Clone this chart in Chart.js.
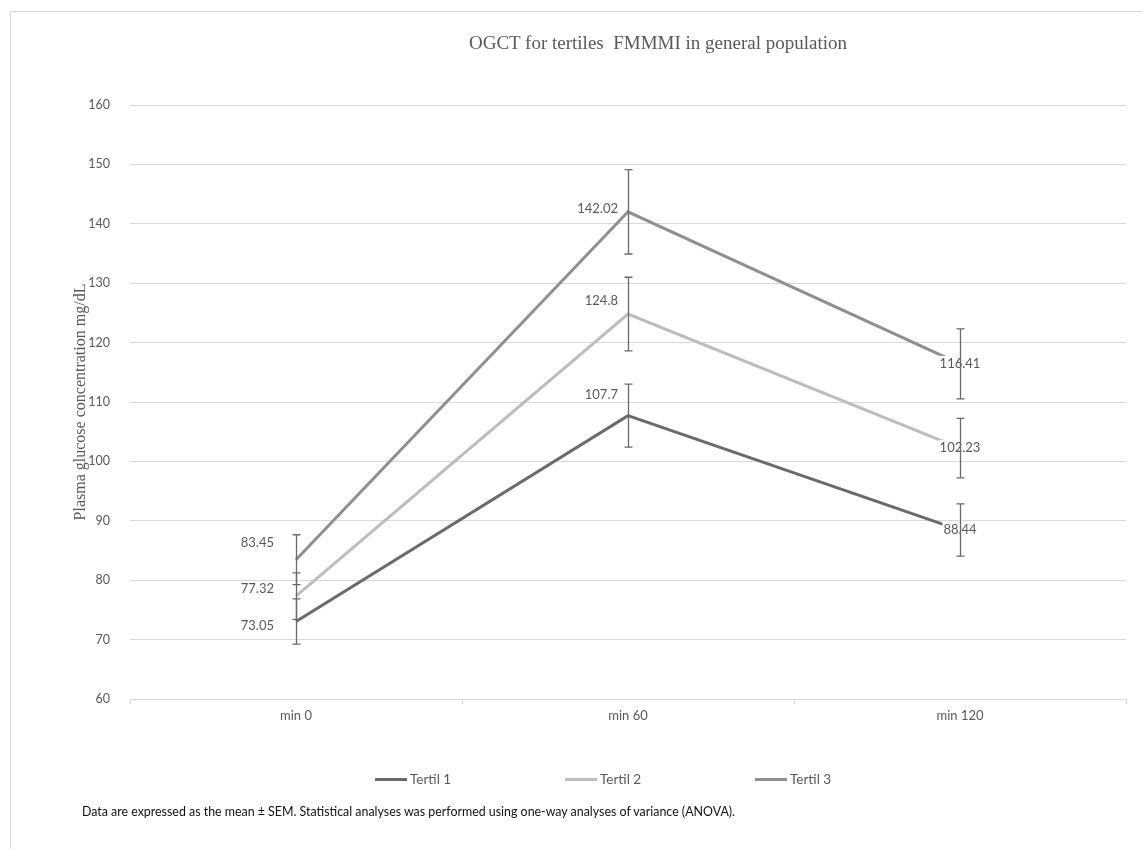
<!DOCTYPE html>
<html>
<head>
<meta charset="utf-8">
<title>OGCT for tertiles FMMMI in general population</title>
<script src="https://cdn.jsdelivr.net/npm/chart.js@4.4.1/dist/chart.umd.min.js"></script>
<style>
  html, body { margin: 0; background: #fff; overflow: hidden; }
  #wrap { position: relative; width: 1142px; height: 849px; }
  #frame {
    position: absolute; left: 10px; top: 11px; width: 1150px; height: 860px;
    border: 1px solid #d9d9d9; box-sizing: border-box;
  }
  #chart { position: absolute; left: 0; top: 0; }
  #title {
    position: absolute; left: 658px; top: 32px; transform: translateX(-50%);
    font: 19px "Liberation Serif", serif; color: #595959; white-space: pre;
  }
  #legend { position: absolute; left: 375px; top: 771px; display: flex; }
  #legend .item {
    width: 190px; display: flex; align-items: center;
    font: 13.5px Lato, sans-serif; color: #595959;
  }
  #legend .swatch { width: 32px; height: 3px; margin-right: 3px; }
  #note {
    position: absolute; left: 82px; top: 804px;
    font: 12.4px Lato, sans-serif; color: #111; white-space: nowrap;
  }
</style>
</head>
<body>
<div id="wrap">
  <div id="frame"></div>
  <canvas id="chart" width="1142" height="849"></canvas>
  <div id="title">OGCT for tertiles  FMMMI in general population</div>
  <div id="legend"></div>
  <div id="note">Data are expressed as the mean ± SEM. Statistical analyses was performed using one-way analyses of variance (ANOVA).</div>
</div>
<script>
// OGTT time points and mean plasma glucose (mg/dL) per tertile
const timePoints = ["min 0", "min 60", "min 120"];
const tertil1 = [73.05, 107.7, 88.44];
const tertil2 = [77.32, 124.8, 102.23];
const tertil3 = [83.45, 142.02, 116.41];

// standard error of the mean for each point
const sem1 = [3.8, 5.3, 4.4];
const sem2 = [3.9, 6.2, 5.0];
const sem3 = [4.2, 7.1, 5.9];

const yMin = 60;
const yMax = 160;
const yStep = 10;

const seriesNames = ["Tertil 1", "Tertil 2", "Tertil 3"];
const seriesColors = ["#6a6a6a", "#bdbdbd", "#8f8f8f"];

// value labels: alignment per time point, pixel nudge [dx, dy] per series/point
const labelAlign = ["right", "right", "center"];
const labelNudge = [
  [[-22, 3], [-10, -22], [0, -1]],
  [[-22, -8], [-10, -14], [0, -1]],
  [[-22, -18], [-10, -4], [0, -1]],
];

const TEXT = "#595959";
const GRID = "#d9d9d9";

const datasets = [tertil1, tertil2, tertil3].map((values, i) => ({
  label: seriesNames[i],
  data: values,
  sem: [sem1, sem2, sem3][i],
  borderColor: seriesColors[i],
  backgroundColor: seriesColors[i],
  borderWidth: 3,
  pointRadius: 0,
  pointHoverRadius: 0,
  tension: 0,
}));

// draws the value labels (on a white box) and the ±SEM whiskers over the lines
const pointAnnotations = {
  id: "pointAnnotations",
  afterDatasetsDraw(chart) {
    const { ctx } = chart;
    const yScale = chart.scales.y;
    ctx.save();
    ctx.font = "13px Lato, sans-serif";
    ctx.textBaseline = "middle";

    chart.data.datasets.forEach((ds, i) => {
      const meta = chart.getDatasetMeta(i);
      meta.data.forEach((pt, j) => {
        const text = String(ds.data[j]);
        const [dx, dy] = labelNudge[i][j];
        const w = ctx.measureText(text).width;
        const align = labelAlign[j];
        const x = pt.x + dx;
        const y = pt.y + dy;
        const left = align === "right" ? x - w : x - w / 2;
        ctx.fillStyle = "#fff";
        ctx.fillRect(left - 1, y - 7, w + 2, 14);
        ctx.fillStyle = TEXT;
        ctx.textAlign = "left";
        ctx.fillText(text, left, y + 1);
      });
    });

    ctx.strokeStyle = "#6a6a6a";
    ctx.lineWidth = 1.3;
    chart.data.datasets.forEach((ds, i) => {
      const meta = chart.getDatasetMeta(i);
      meta.data.forEach((pt, j) => {
        const top = yScale.getPixelForValue(ds.data[j] + ds.sem[j]);
        const bottom = yScale.getPixelForValue(ds.data[j] - ds.sem[j]);
        const x = Math.round(pt.x) + 0.5;
        ctx.beginPath();
        ctx.moveTo(x, top);
        ctx.lineTo(x, bottom);
        ctx.moveTo(x - 4, top);
        ctx.lineTo(x + 4, top);
        ctx.moveTo(x - 4, bottom);
        ctx.lineTo(x + 4, bottom);
        ctx.stroke();
      });
    });
    ctx.restore();
  },
};

const chart = new Chart(document.getElementById("chart"), {
  type: "line",
  data: { labels: timePoints, datasets },
  options: {
    responsive: false,
    animation: false,
    layout: { padding: { left: 60, right: 16, top: 105, bottom: 120 } },
    plugins: {
      legend: { display: false },
      title: { display: false },
      tooltip: { enabled: false },
    },
    scales: {
      x: {
        offset: true,
        grid: {
          offset: true,
          drawOnChartArea: false,
          drawTicks: true,
          tickLength: 5,
          color: GRID,
        },
        border: { display: true, color: GRID },
        ticks: { color: TEXT, font: { family: "Lato", size: 13 }, padding: 4 },
        afterFit: (scale) => { scale.height = 30; },
      },
      y: {
        min: yMin,
        max: yMax,
        grid: { color: GRID, drawTicks: false },
        border: { display: false },
        ticks: {
          stepSize: yStep,
          color: TEXT,
          font: { family: "Lato", size: 12.5 },
          padding: 20,
        },
        title: {
          display: true,
          text: "Plasma glucose concentration mg/dL",
          color: TEXT,
          font: { family: "Liberation Serif", size: 16 },
          padding: { top: 11, bottom: 0 },
        },
        afterFit: (scale) => { scale.width = 70; },
      },
    },
  },
  plugins: [pointAnnotations],
});

// legend built from the datasets
const legend = document.getElementById("legend");
chart.data.datasets.forEach((ds) => {
  const item = document.createElement("div");
  item.className = "item";
  const swatch = document.createElement("span");
  swatch.className = "swatch";
  swatch.style.background = ds.borderColor;
  const label = document.createElement("span");
  label.textContent = ds.label;
  item.append(swatch, label);
  legend.append(item);
});
</script>
</body>
</html>
